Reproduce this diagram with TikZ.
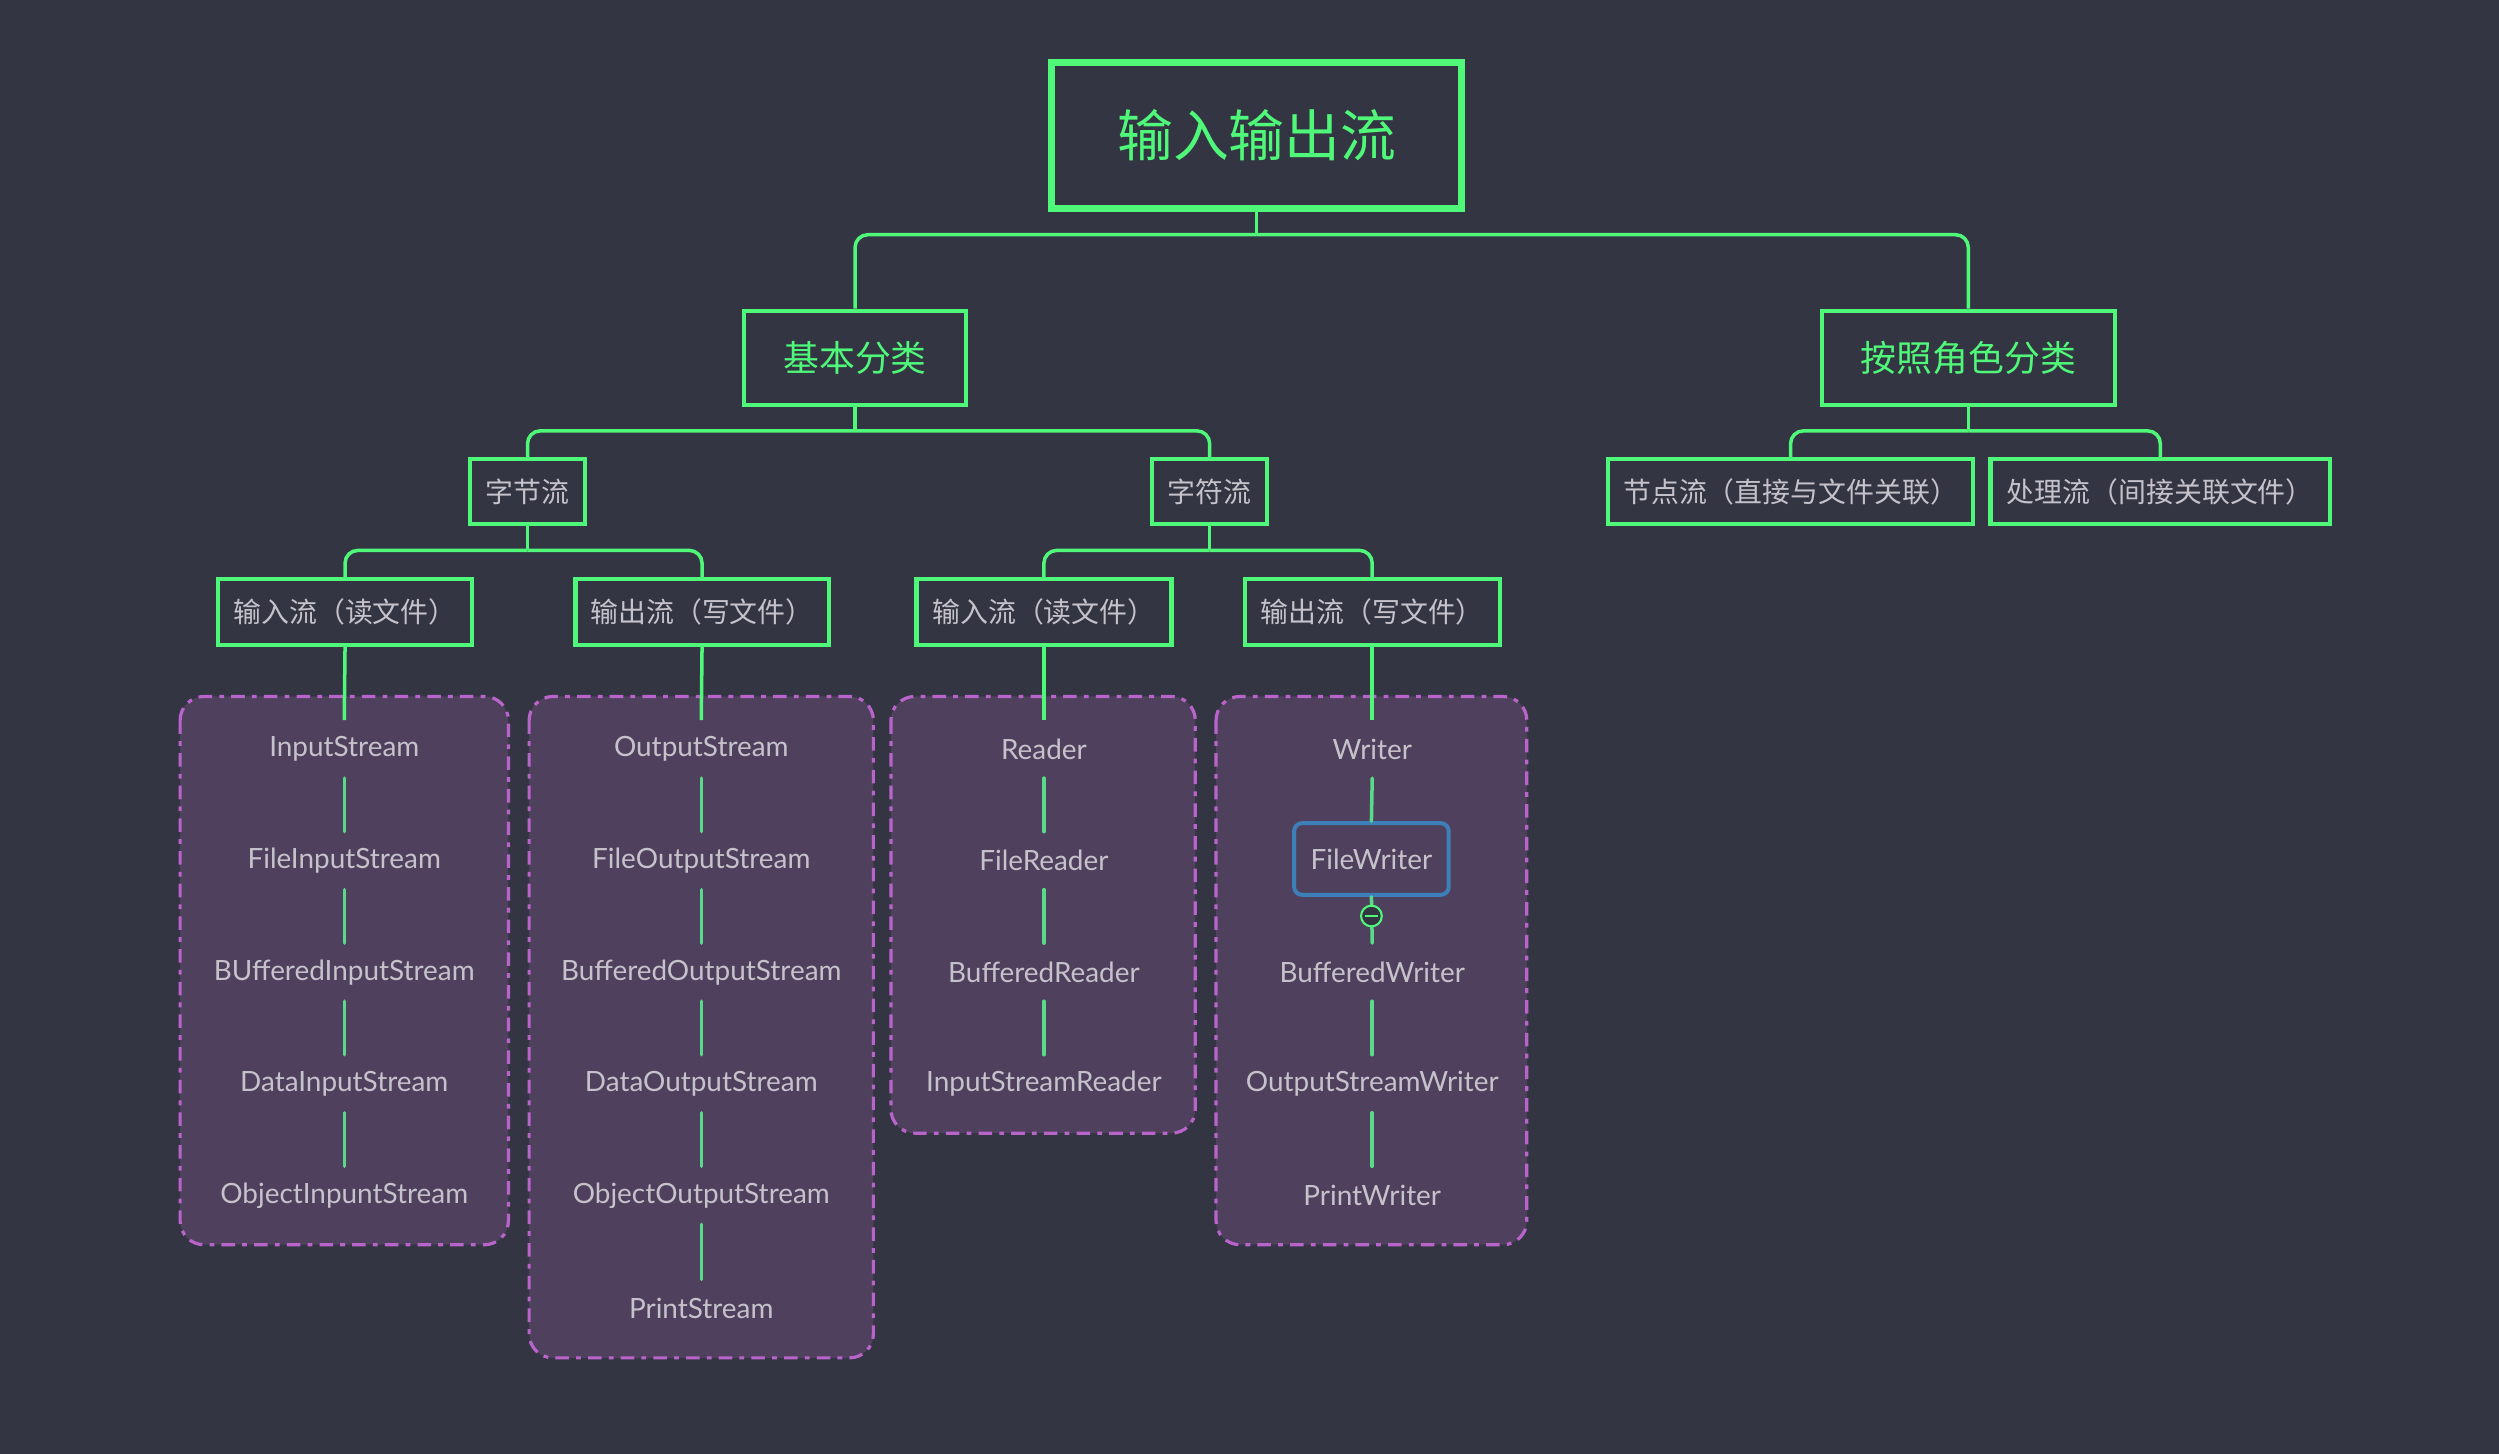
\documentclass[tikz,border=0pt]{standalone}
\usepackage{fontspec}
\newfontfamily\cjkfont{Noto Sans CJK SC}
\newfontfamily\itemfont{Lato}
\usetikzlibrary{calc}

\definecolor{bg}{HTML}{333542}
\definecolor{mapgreen}{HTML}{50F87A}
\definecolor{linkgreen}{HTML}{5AD98A}
\definecolor{txtgray}{HTML}{C6C2CB}
\definecolor{grpfill}{HTML}{4F405D}
\definecolor{grpline}{HTML}{B964CA}
\definecolor{selblue}{HTML}{3D80B9}

\tikzset{
  root/.style={draw=mapgreen, line width=4.5pt, text=mapgreen, font=\cjkfont\fontsize{35}{40}\selectfont, minimum width=257pt, minimum height=92pt},
  cat/.style={draw=mapgreen, line width=2.7pt, text=mapgreen, font=\cjkfont\fontsize{22.5}{26}\selectfont, minimum height=59pt},
  lbl/.style={draw=mapgreen, line width=2.7pt, text=txtgray, font=\cjkfont\fontsize{17.5}{20}\selectfont, minimum height=41pt, minimum width=#1},
  item/.style={text=txtgray, font=\itemfont\fontsize{17.5}{20}\selectfont, minimum height=36pt},
  fwbox/.style={draw=selblue, line width=2.5pt, rounded corners=5pt, minimum width=97pt, minimum height=45pt},
  fold/.style={circle, draw=mapgreen, fill=bg, line width=1.3pt, minimum size=13pt, inner sep=0pt},
  grp/.style={fill=grpfill, draw=grpline, line width=2pt, rounded corners=15pt, dash pattern=on 8.5pt off 4.5pt on 3pt off 4.5pt},
  conn/.style={draw=mapgreen, line width=2.2pt, rounded corners=8pt},
  link/.style={draw=linkgreen, line width=2.2pt, line cap=round}
}

\begin{document}
\begin{tikzpicture}[x=1pt, y=-1pt]

\useasboundingbox (0,0) rectangle (1568,911.7);
\fill[bg] (-5,-5) rectangle (1573,917);

% groups
\draw[grp] (113,437) rectangle (319,781);
\draw[grp] (332,437) rectangle (548,852);
\draw[grp] (559,437) rectangle (750,711);
\draw[grp] (763,437) rectangle (958,781);

% tree
\node[root] (io) at (788.5,85) {输入输出流};
\node[cat, minimum width=139pt] (basic) at (536.5,224.5) {基本分类};
\node[cat, minimum width=184pt] (role) at (1235,224.5) {按照角色分类};

\node[lbl=72pt] (byte) at (331,308.5) {字节流};
\node[lbl=72pt] (char) at (759,308.5) {字符流};
\node[lbl=229pt] (nodestream) at (1123.5,308.5) {节点流（直接与文件关联）};
\node[lbl=213pt] (procstream) at (1355.5,308.5) {处理流（间接关联文件）};

\node[lbl=159pt] (bytein) at (216.5,384) {输入流（读文件）};
\node[lbl=159pt] (byteout) at (440.5,384) {输出流（写文件）};
\node[lbl=160pt] (charin) at (655,384) {输入流（读文件）};
\node[lbl=160pt] (charout) at (861,384) {输出流（写文件）};

\draw[conn] (io.south) -- ++(0,14) coordinate (ioj);
\draw[conn] (ioj) -| (basic.north);
\draw[conn] (ioj) -| (role.north);

\draw[conn] (basic.south) -- ++(0,15) coordinate (basicj);
\draw[conn] (basicj) -| (byte.north);
\draw[conn] (basicj) -| (char.north);

\draw[conn] (role.south) -- ++(0,15) coordinate (rolej);
\draw[conn] (rolej) -| (nodestream.north);
\draw[conn] (rolej) -| (procstream.north);

\draw[conn] (byte.south) -- ++(0,15) coordinate (bytej);
\draw[conn] (bytej) -| (bytein.north);
\draw[conn] (bytej) -| (byteout.north);

\draw[conn] (char.south) -- ++(0,15) coordinate (charj);
\draw[conn] (charj) -| (charin.north);
\draw[conn] (charj) -| (charout.north);

% byte input
\node[item] (is) at (216,470) {InputStream};
\node[item] (fis) at (216,540) {FileInputStream};
\node[item] (bis) at (216,610) {BUfferedInputStream};
\node[item] (dis) at (216,680) {DataInputStream};
\node[item] (ois) at (216,750) {ObjectInpuntStream};

\draw[conn] (bytein.south) -- (is.north);
\draw[link] (is.south) -- (fis.north);
\draw[link] (fis.south) -- (bis.north);
\draw[link] (bis.south) -- (dis.north);
\draw[link] (dis.south) -- (ois.north);

% byte output
\node[item] (os) at (440,470) {OutputStream};
\node[item] (fos) at (440,540) {FileOutputStream};
\node[item] (bos) at (440,610) {BufferedOutputStream};
\node[item] (dos) at (440,680) {DataOutputStream};
\node[item] (oos) at (440,750) {ObjectOutputStream};
\node[item] (ps) at (440,821) {PrintStream};

\draw[conn] (byteout.south) -- (os.north);
\draw[link] (os.south) -- (fos.north);
\draw[link] (fos.south) -- (bos.north);
\draw[link] (bos.south) -- (dos.north);
\draw[link] (dos.south) -- (oos.north);
\draw[link] (oos.south) -- (ps.north);

% char input
\node[item] (rd) at (655,470) {Reader};
\node[item] (frd) at (655,540) {FileReader};
\node[item] (brd) at (655,610) {BufferedReader};
\node[item] (isr) at (655,680) {InputStreamReader};

\draw[conn] (charin.south) -- (rd.north);
\draw[link] (rd.south) -- (frd.north);
\draw[link] (frd.south) -- (brd.north);
\draw[link] (brd.south) -- (isr.north);

% char output
\node[item] (wr) at (861,470) {Writer};
\node[item, fwbox] (fw) at (860.5,539) {FileWriter};
\node[item] (bw) at (861,610) {BufferedWriter};
\node[item] (osw) at (861,680) {OutputStreamWriter};
\node[item] (pw) at (861,750) {PrintWriter};

\draw[conn] (charout.south) -- (wr.north);
\draw[link] (wr.south) -- (fw.north);
\draw[link] (fw.south) -- (bw.north);
\draw[link] (bw.south) -- (osw.north);
\draw[link] (osw.south) -- (pw.north);

\node[fold] (fwfold) at ($(fw.south)+(0,12)$) {};
\draw[mapgreen, line width=1.3pt] ($(fwfold.west)+(3,0)$) -- ($(fwfold.east)+(-3,0)$);

\end{tikzpicture}
\end{document}
